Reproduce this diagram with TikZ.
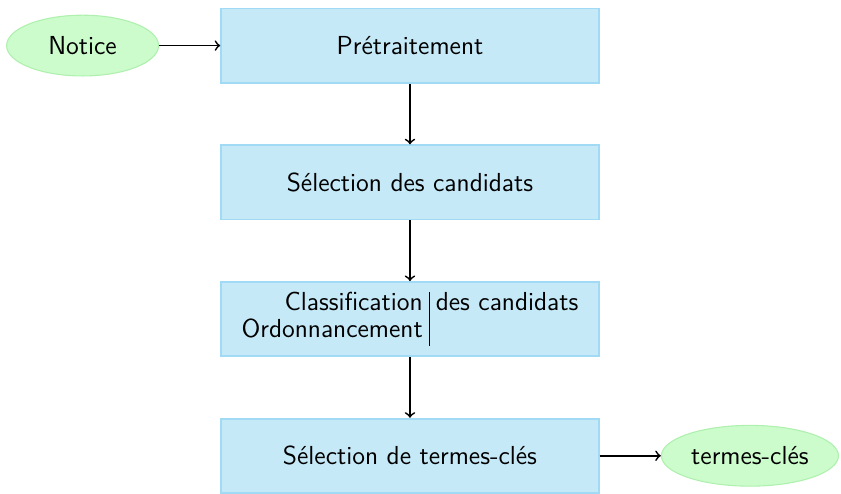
\documentclass[tikz,border=0pt]{standalone}
\usepackage{fontspec}
\usetikzlibrary{positioning,shapes.geometric}
\definecolor{boitefond}{RGB}{198,233,248}
\definecolor{boitebord}{RGB}{160,218,245}
\definecolor{ovalefond}{RGB}{204,252,204}
\definecolor{ovalebord}{RGB}{175,240,175}
\setlength{\tabcolsep}{3pt}
\tikzset{
	etape/.style={rectangle, fill=boitefond, draw=boitebord, line width=0.8pt,
		minimum width=174pt, minimum height=34.2pt, font=\sffamily\fontsize{12}{12.4}\selectfont},
	donnee/.style={ellipse, fill=ovalefond, draw=ovalebord, line width=0.5pt,
		minimum width=70pt, minimum height=28pt, inner sep=1.8pt, font=\sffamily\fontsize{12}{12.4}\selectfont},
	fleche/.style={->, thick}
}
\begin{document}
\begin{tikzpicture}[node distance=28pt]
		% Chaîne de traitement
		\node[etape] (pretrait) {Prétraitement};
		\node[etape, below=of pretrait] (selcand) {Sélection des candidats};
		\node[etape, below=of selcand] (classif) {\begin{tabular}{@{}r|l@{}}Classification & des candidats\\ Ordonnancement & \end{tabular}};
		\node[etape, below=of classif] (seltermes) {Sélection de termes-clés};
		% Entrée et sortie
		\node[donnee, left=28.2pt of pretrait] (notice) {Notice};
		\node[donnee, right=28.2pt of seltermes] (termes) {termes-clés};
		% Flèches
		\draw[fleche] (notice) -- (pretrait);
		\foreach \a/\b in {pretrait/selcand, selcand/classif, classif/seltermes} {
			\draw[fleche] (\a) -- (\b);
		}
		\draw[fleche] (seltermes) -- (termes);
		% Cadre
		\coordinate (hautgauche) at ([shift={(-188.9pt,21pt)}]pretrait.center);
		\useasboundingbox (hautgauche) rectangle ++(387.5pt,-227.2pt);
	\end{tikzpicture}
\end{document}
